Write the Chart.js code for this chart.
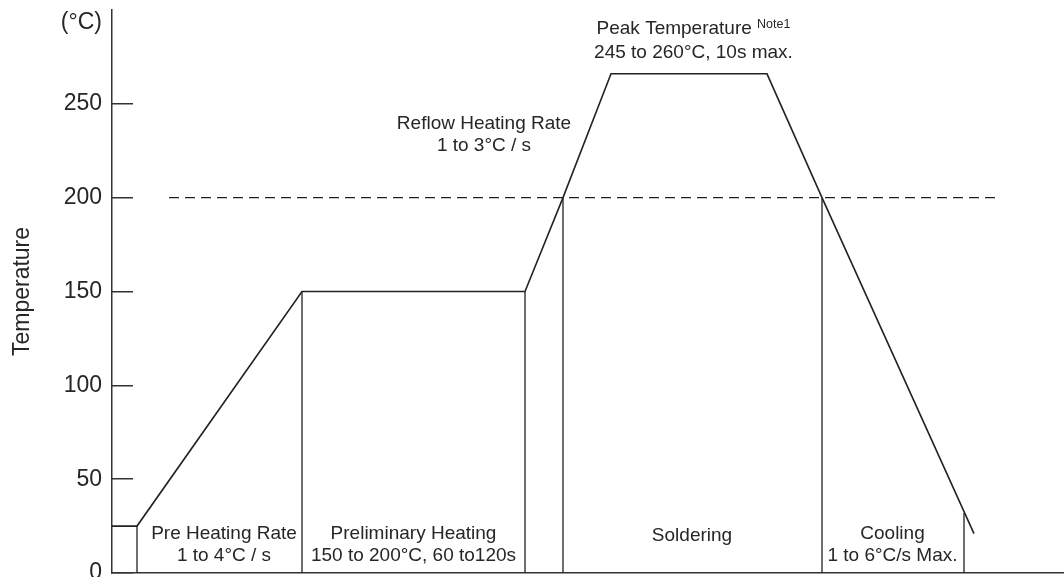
<!DOCTYPE html>
<html>
<head>
<meta charset="utf-8">
<script src="https://cdn.jsdelivr.net/npm/chart.js@4/dist/chart.umd.min.js"></script>
<style>
html,body{margin:0;padding:0;background:#fff;overflow:hidden}
#wrap{width:1064px;height:577px}
</style>
</head>
<body>
<div id="wrap"><canvas id="chart"></canvas></div>
<script>
// reflow profile: x = time (arbitrary units, no scale shown), y = temperature in °C
const profileTime = [0, 25, 190, 413, 451, 499, 655, 710, 862];
const profileTemp = [25, 25, 150, 150, 200, 266, 266, 200, 21];
// vertical zone separators and how high they go
const dividerTime = [25, 190, 413, 451, 710, 852];
const dividerTop = [25, 150, 150, 200, 200, 32];
// dashed 200°C line
const limitTemp = 200;
const limitTime = [57, 885];
const yTicks = [0, 50, 100, 150, 200, 250];
const unitLabel = "(°C)";
const yTitle = "Temperature";

const FONT = "'Liberation Sans', Arial, sans-serif";
const TXT = "#262626";
const INK = "#222";

// zone captions (x = time, y = temperature of each line's middle)
const notes = [
  {x:112, y:[21.0, 9.3], lines:["Pre Heating Rate", "1 to 4°C / s"]},
  {x:301.5, y:[21.0, 9.3], lines:["Preliminary Heating", "150 to 200°C, 60 to120s"]},
  {x:580, y:[19.7], lines:["Soldering"]},
  {x:780.5, y:[21.0, 9.3], lines:["Cooling", "1 to 6°C/s Max."]},
  {x:372, y:[239.2, 227.5], lines:["Reflow Heating Rate", "1 to 3°C / s"]},
  {x:581.5, y:[277.3], lines:["245 to 260°C, 10s max."]}
];
const peakNote = {x:581.5, y:289.8, text:"Peak Temperature ", sup:"Note1"};

const notesPlugin = {
  id:"notes",
  afterDraw(c){
    const {ctx, scales:{x, y}} = c;
    ctx.save();
    ctx.fillStyle = TXT;
    ctx.textBaseline = "middle";
    ctx.textAlign = "center";
    ctx.font = `19px ${FONT}`;
    notes.forEach(n => n.lines.forEach((t, i) => {
      ctx.fillText(t, x.getPixelForValue(n.x), y.getPixelForValue(n.y[i]));
    }));
    // peak caption with superscript
    ctx.textAlign = "left";
    const w1 = ctx.measureText(peakNote.text).width;
    ctx.font = `12.5px ${FONT}`;
    const w2 = ctx.measureText(peakNote.sup).width;
    const px = x.getPixelForValue(peakNote.x) - (w1 + w2) / 2;
    const py = y.getPixelForValue(peakNote.y);
    ctx.fillText(peakNote.sup, px + w1, py - 5);
    ctx.font = `19px ${FONT}`;
    ctx.fillText(peakNote.text, px, py);
    // unit label above the axis
    ctx.textAlign = "right";
    ctx.font = `23px ${FONT}`;
    ctx.fillText(unitLabel, y.right - 10, y.getPixelForValue(293));
    ctx.restore();
  }
};

const profileData = profileTime.map((t, i) => ({x:t, y:profileTemp[i]}));
const dividerData = dividerTime.flatMap((t, i) => [{x:t, y:0}, {x:t, y:dividerTop[i]}, {x:t, y:null}]);
const limitData = limitTime.map(t => ({x:t, y:limitTemp}));

new Chart(document.getElementById("chart"), {
  type:"scatter",
  data:{
    datasets:[
      {data:profileData, showLine:true, borderColor:INK, borderWidth:1.6, pointRadius:0},
      {data:dividerData, showLine:true, spanGaps:false, borderColor:INK, borderWidth:1.3, pointRadius:0},
      {data:limitData, showLine:true, borderColor:INK, borderWidth:1.4, borderDash:[10, 6], pointRadius:0}
    ]
  },
  options:{
    responsive:true,
    maintainAspectRatio:false,
    devicePixelRatio:1,
    animation:false,
    layout:{padding:{top:10, bottom:4, left:0, right:0}},
    plugins:{legend:{display:false}, tooltip:{enabled:false}},
    scales:{
      x:{
        type:"linear", min:0, max:952,
        grid:{display:false, drawTicks:false},
        ticks:{display:false},
        border:{display:true, color:"#333", width:1.5},
        afterFit:s => { s.height = 0; s.paddingLeft = 0; s.paddingRight = 0; }
      },
      y:{
        min:0, max:300,
        afterBuildTicks:s => { s.ticks = yTicks.map(v => ({value:v})); },
        ticks:{color:TXT, padding:31, font:{size:23, family:FONT}},
        grid:{display:true, drawOnChartArea:false, drawTicks:true, tickLength:-21, color:"#333", lineWidth:1.5},
        border:{display:true, color:"#333", width:1.5},
        title:{display:true, text:yTitle, color:TXT, font:{size:23, family:FONT}, padding:{top:9, bottom:0}},
        afterFit:s => { s.width = 112; s.paddingTop = 0; s.paddingBottom = 0; }
      }
    }
  },
  plugins:[notesPlugin]
});
</script>
</body>
</html>
